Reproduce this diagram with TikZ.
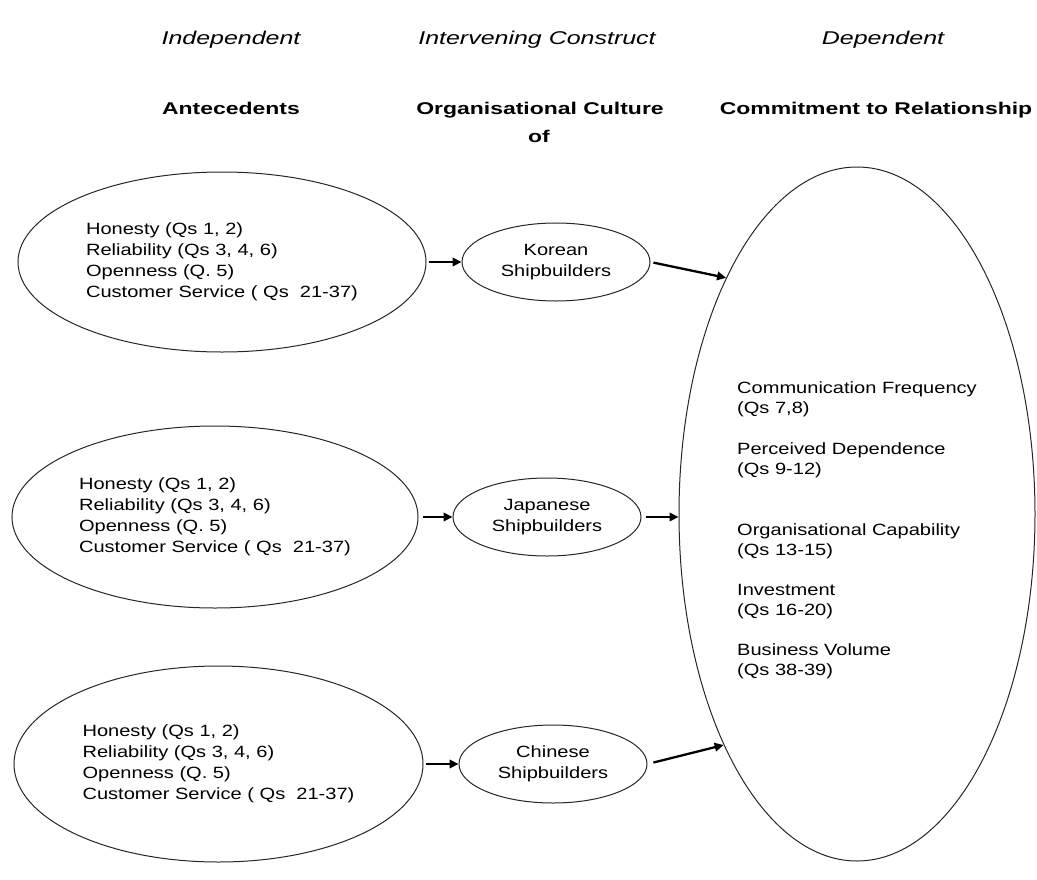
\documentclass[tikz,border=0pt]{standalone}
\usepackage{fontspec}
\setmainfont{Liberation Sans}[FakeStretch=1.23]
\newfontfamily\headfont{Liberation Sans}[FakeStretch=1.35]
\usetikzlibrary{shapes.geometric,arrows.meta}
\begin{document}
\begin{tikzpicture}[x=1pt,y=-1pt,
  oval/.style={draw=black!85, line width=1pt, ellipse, inner sep=0pt},
  body/.style={font=\fontsize{16.3}{21}\selectfont, text=black},
  lead/.style={oval, body, align=left},
  mid/.style={oval, body, align=center, minimum width=188pt, minimum height=78pt},
  colhead/.style={anchor=base, inner sep=0pt, font=\headfont\fontsize{18.5}{22}\selectfont\itshape},
  colname/.style={anchor=base, inner sep=0pt, font=\headfont\fontsize{17}{20}\selectfont\bfseries},
  arr/.style={line width=2.3pt, -{Triangle[length=9pt,width=8.5pt]}},
]
\useasboundingbox (0,0) rectangle (1037,879);

% column headings
\node[colhead] (hind) at (231,44) {Independent};
\node[colhead] (hint) at (537,44) {Intervening Construct};
\node[colhead] (hdep) at (883,44) {Dependent};
\node[colname] (nant) at (231,114) {Antecedents};
\node[colname] (ncul) at (540,114) {Organisational Culture};
\node[colname] (nof)  at (539,142) {of};
\node[colname] (ncom) at (876,114) {Commitment to Relationship};

% antecedent ovals
\node[lead, minimum width=408pt, minimum height=180pt] (e1) at (222,262)
  {Honesty (Qs 1, 2)\\Reliability (Qs 3, 4, 6)\\Openness (Q. 5)\\Customer Service ( Qs\ \ 21-37)};
\node[lead, minimum width=406pt, minimum height=182pt] (e2) at (215,517)
  {Honesty (Qs 1, 2)\\Reliability (Qs 3, 4, 6)\\Openness (Q. 5)\\Customer Service ( Qs\ \ 21-37)};
\node[lead, minimum width=409pt, minimum height=196pt] (e3) at (218.5,764)
  {Honesty (Qs 1, 2)\\Reliability (Qs 3, 4, 6)\\Openness (Q. 5)\\Customer Service ( Qs\ \ 21-37)};

% organisational culture ovals
\node[mid] (k) at (556,262) {Korean\\Shipbuilders};
\node[mid] (j) at (547,517) {Japanese\\Shipbuilders};
\node[mid] (c) at (553,764) {Chinese\\Shipbuilders};

% commitment oval and its items
\node[oval, minimum width=356pt, minimum height=694pt] (dep) at (857,514) {};
\node[body, font=\fontsize{16.3}{20}\selectfont, align=left, inner sep=0pt, anchor=north west] (items) at (737,381)
  {Communication Frequency\\
   (Qs 7,8)\\[21pt]
   Perceived Dependence\\
   (Qs 9-12)\\[41pt]
   Organisational Capability\\
   (Qs 13-15)\\[20pt]
   Investment\\
   (Qs 16-20)\\[20pt]
   Business Volume\\
   (Qs 38-39)};

% connectors
\draw[arr, shorten <=2pt] (e1.east) -- (k.west);
\draw[arr, shorten <=4pt] (e2.east) -- (j.west);
\draw[arr, shorten <=2pt] (e3.east) -- (c.west);
\draw[arr, shorten <=3pt] (k.east) -- (dep.119.5);
\draw[arr, shorten <=4pt] (j.east) -- (j.east -| dep.west);
\draw[arr, shorten <=6pt] (c.east) -- (dep.240);
\end{tikzpicture}
\end{document}
